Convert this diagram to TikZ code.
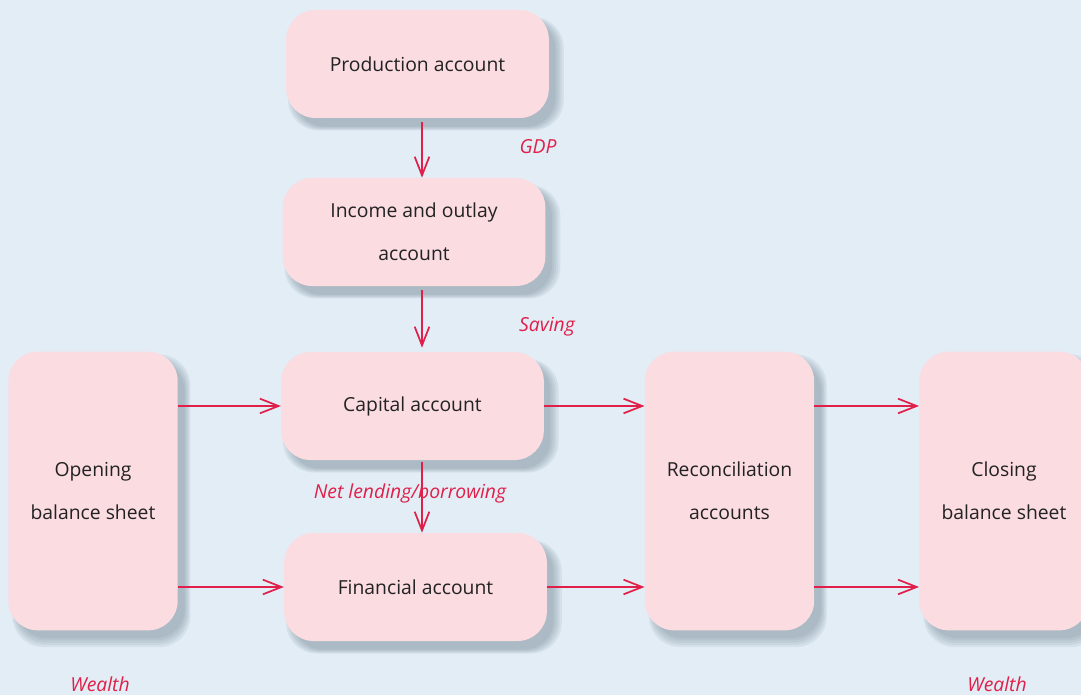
\documentclass[tikz,border=0pt]{standalone}
\usepackage{fontspec}
\setmainfont{Open Sans}
\usetikzlibrary{arrows.meta, shadows}
\definecolor{bgblue}{HTML}{E2EDF6}
\definecolor{boxpink}{HTML}{FADCE1}
\definecolor{flowred}{HTML}{E0204A}
\definecolor{inkgray}{HTML}{222222}
\definecolor{shadowgray}{HTML}{5A6A7A}
\tikzset {
    x=0.75pt,
    y=0.75pt,
    softshadow/.style={general shadow={fill=shadowgray, opacity=0.09,
        shadow xshift=6pt, shadow yshift=-7pt, shadow scale=#1}},
    account/.style={fill=boxpink, text=inkgray, rounded corners=22pt,
        minimum width=197pt, minimum height=81pt, align=center,
        font=\fontsize{14.5}{32}\selectfont,
        softshadow=1.05, softshadow=1.035, softshadow=1.02, softshadow=1.005,
        softshadow=0.99},
    tallaccount/.style={account, minimum width=127pt, minimum height=209pt},
    flow/.style={-{Straight Barb[length=14pt, width=11pt]}, color=flowred,
        line width=1.3pt},
    flowlabel/.style={text=flowred, font=\fontsize{14.5}{17}\selectfont\itshape}
}

\begin{document}
\begin{tikzpicture}
                    \useasboundingbox (0,0) rectangle (1081,-695);
                    \clip (0,0) rectangle (1081,-695);
                    \fill[bgblue] (0,0) rectangle (1081,-695);

                    % accounts
                    \node[account] (prod) at (417.5,-64) {Production account};
                    \node[account] (inc) at (414,-232) {Income and outlay\\account};
                    \node[account] (cap) at (412.5,-406) {Capital account};
                    \node[account] (fin) at (415.5,-587) {Financial account};
                    \node[tallaccount] (open) at (93,-491) {Opening\\balance sheet};
                    \node[tallaccount] (recon) at (729.5,-491) {Reconciliation\\accounts};
                    \node[tallaccount] (close) at (1004,-491) {Closing\\balance sheet};

                    \coordinate (spine) at (422,0);

                    \path[flow]
                    (prod.south -| spine) edge[shorten <=3pt] (inc.north -| spine)
                    (inc.south -| spine) edge[shorten <=3pt, shorten >=3pt] (cap.north -| spine)
                    (cap.south -| spine) edge[shorten <=1pt] (fin.north -| spine)
                    (open.east |- cap.west) edge (cap.west)
                    (open.east |- fin.west) edge (fin.west)
                    (cap.east) edge (recon.west |- cap.east)
                    (fin.east) edge (recon.west |- fin.east)
                    (recon.east |- cap.east) edge (close.west |- cap.east)
                    (recon.east |- fin.east) edge (close.west |- fin.east);

                    % flow labels
                    \node[flowlabel] (gdp) at (538,-147) {GDP};
                    \node[flowlabel] (saving) at (547,-327) {Saving};
                    \node[flowlabel] (netlend) at (410,-493) {Net lending/borrowing};
                    \node[flowlabel] (wealthl) at (100,-684) {Wealth};
                    \node[flowlabel] (wealthr) at (997,-684) {Wealth};
                    \end{tikzpicture}
\end{document}
